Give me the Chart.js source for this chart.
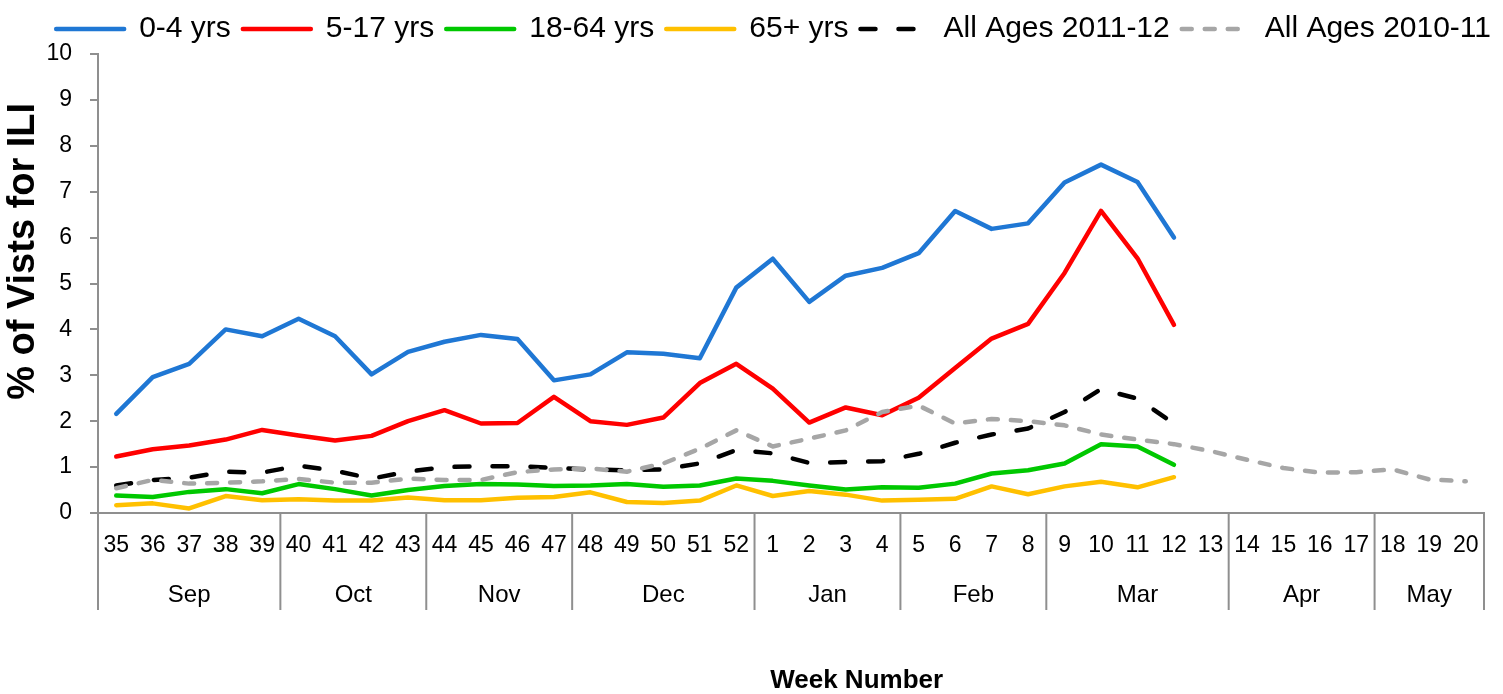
<!DOCTYPE html>
<html>
<head>
<meta charset="utf-8">
<script src="https://cdn.jsdelivr.net/npm/chart.js@4.4.1/dist/chart.umd.min.js"></script>
<style>
  html, body { margin: 0; padding: 0; background: #fff; }
  #wrap { width: 1503px; height: 694px; position: relative; }
</style>
</head>
<body>
<div id="wrap"><canvas id="iliChart"></canvas></div>
<script>
// week numbers on the x axis (Sep 2011 .. May 2012)
const weeks = ['35','36','37','38','39','40','41','42','43','44','45','46','47','48','49','50','51','52',
  '1','2','3','4','5','6','7','8','9','10','11','12','13','14','15','16','17','18','19','20'];

// month groups under the week labels
const months = ['Sep', 'Oct', 'Nov', 'Dec', 'Jan', 'Feb', 'Mar', 'Apr', 'May'];
const monthWeeks = [5, 4, 4, 5, 4, 4, 5, 4, 3];

const yTicks = [0, 1, 2, 3, 4, 5, 6, 7, 8, 9, 10];

// % of visits for ILI, season 2011-12 (data stops at week 12)
const age0to4 = [2.16, 2.96, 3.25, 4.0, 3.85, 4.23, 3.85, 3.02, 3.51, 3.73, 3.88, 3.79, 2.89, 3.02, 3.5, 3.47, 3.37, 4.91,
  5.54, 4.6, 5.17, 5.34, 5.66, 6.58, 6.19, 6.31, 7.2, 7.59, 7.21, 6.0];
const age5to17 = [1.23, 1.39, 1.47, 1.6, 1.81, 1.69, 1.58, 1.68, 2.0, 2.24, 1.95, 1.96, 2.53, 2.0, 1.92, 2.08, 2.83, 3.25,
  2.71, 1.97, 2.3, 2.13, 2.51, 3.16, 3.8, 4.12, 5.23, 6.58, 5.55, 4.1];
const age18to64 = [0.38, 0.35, 0.46, 0.52, 0.43, 0.63, 0.52, 0.38, 0.5, 0.59, 0.63, 0.62, 0.59, 0.6, 0.63, 0.57, 0.6, 0.75,
  0.7, 0.6, 0.51, 0.56, 0.55, 0.64, 0.86, 0.93, 1.08, 1.5, 1.45, 1.05];
const age65plus = [0.17, 0.21, 0.1, 0.37, 0.28, 0.3, 0.27, 0.27, 0.34, 0.28, 0.28, 0.33, 0.35, 0.45, 0.24, 0.22, 0.27, 0.6,
  0.37, 0.48, 0.4, 0.27, 0.29, 0.31, 0.58, 0.41, 0.58, 0.68, 0.56, 0.78];
const allAges1112 = [0.6, 0.72, 0.77, 0.9, 0.88, 1.03, 0.92, 0.75, 0.9, 1.0, 1.02, 1.02, 0.98, 0.95, 0.93, 0.95, 1.08, 1.37,
  1.3, 1.09, 1.11, 1.13, 1.29, 1.53, 1.71, 1.84, 2.2, 2.7, 2.49, 1.95];
// previous season, full range
const allAges1011 = [0.54, 0.72, 0.64, 0.66, 0.69, 0.74, 0.66, 0.66, 0.75, 0.72, 0.72, 0.89, 0.95, 0.97, 0.9, 1.08, 1.4, 1.8,
  1.45, 1.62, 1.8, 2.2, 2.34, 1.95, 2.05, 2.0, 1.91, 1.71, 1.6, 1.5, 1.35, 1.16, 0.98, 0.88, 0.89, 0.95, 0.73, 0.69];

const xTitle = 'Week Number';
const yTitle = '% of Vists for ILI';

const FONT = "'Liberation Sans', Arial, sans-serif";
const AXIS_GREY = '#8f8f8f';
const LINE_W = 4.5;

function line(label, data, color, dash, order) {
  return {
    label: label,
    data: data,
    borderColor: color,
    backgroundColor: color,
    borderWidth: LINE_W,
    borderDash: dash || [],
    borderCapStyle: 'round',
    borderJoinStyle: 'round',
    pointRadius: 0,
    pointHoverRadius: 0,
    tension: 0,
    fill: false,
    order: order
  };
}

// month row, separators and the two axis titles (Excel placed them off-centre)
const axisExtras = {
  id: 'axisExtras',
  afterDraw(chart) {
    const xs = chart.scales.x;
    const ctx = chart.ctx;
    const bottom = chart.chartArea.bottom;
    const half = (xs.getPixelForValue(1) - xs.getPixelForValue(0)) / 2;
    ctx.save();
    ctx.strokeStyle = AXIS_GREY;
    ctx.lineWidth = 2;
    ctx.fillStyle = '#000';
    ctx.font = '24px ' + FONT;
    ctx.textAlign = 'center';
    ctx.textBaseline = 'middle';
    let k = 0;
    months.forEach((m, i) => {
      const first = k;
      const last = k + monthWeeks[i] - 1;
      const left = xs.getPixelForValue(first) - half;
      ctx.beginPath();
      ctx.moveTo(left, bottom);
      ctx.lineTo(left, bottom + 97);
      ctx.stroke();
      const cx = (xs.getPixelForValue(first) + xs.getPixelForValue(last)) / 2;
      ctx.fillText(m, cx, bottom + 82);
      k = last + 1;
    });
    const right = xs.getPixelForValue(k - 1) + half;
    ctx.beginPath();
    ctx.moveTo(right, bottom);
    ctx.lineTo(right, bottom + 97);
    ctx.stroke();

    ctx.font = 'bold 26px ' + FONT;
    ctx.fillText(xTitle, xs.getPixelForValue(20) + 0.6 * half, chart.height - 13);

    const ys = chart.scales.y;
    ctx.font = 'bold 38px ' + FONT;
    ctx.translate(24, ys.getPixelForValue(5.7));
    ctx.rotate(-Math.PI / 2);
    ctx.fillText(yTitle, 0, 0);
    ctx.restore();
  }
};

function legendItems(chart) {
  const items = Chart.defaults.plugins.legend.labels.generateLabels(chart);
  items.forEach(it => {
    const ds = chart.data.datasets[it.datasetIndex];
    it.lineDash = ds.borderDash;
    it.lineCap = 'round';
    it.lineWidth = LINE_W;
    it.strokeStyle = ds.borderColor;
  });
  return items.sort((a, b) => a.datasetIndex - b.datasetIndex);
}

const ctx = document.getElementById('iliChart').getContext('2d');

new Chart(ctx, {
  type: 'line',
  data: {
    labels: weeks,
    datasets: [
      line('0-4 yrs', age0to4, '#1f77d4', null, 6),
      line('5-17 yrs', age5to17, '#ff0000', null, 5),
      line('18-64 yrs', age18to64, '#00c800', null, 4),
      line('65+ yrs', age65plus, '#ffc000', null, 3),
      line('All Ages 2011-12', allAges1112, '#000000', [15, 23], 2),
      line('All Ages 2010-11', allAges1011, '#a6a6a6', [10, 13], 1)
    ]
  },
  options: {
    responsive: true,
    maintainAspectRatio: false,
    animation: false,
    layout: { padding: { top: 2, left: 0, right: 0, bottom: 0 } },
    plugins: {
      legend: {
        position: 'top',
        align: 'end',
        labels: {
          usePointStyle: true,
          pointStyle: 'line',
          pointStyleWidth: 68,
          padding: 12,
          color: '#000',
          font: { family: FONT, size: 30 },
          generateLabels: legendItems
        }
      },
      tooltip: { enabled: false }
    },
    scales: {
      x: {
        type: 'category',
        offset: true,
        grid: { display: false, drawTicks: false },
        border: { display: true, color: AXIS_GREY, width: 2 },
        ticks: {
          color: '#000',
          font: { family: FONT, size: 23 },
          padding: 19,
          maxRotation: 0,
          autoSkip: false
        },
        afterFit: scale => { scale.height = 181; }
      },
      y: {
        min: 0,
        max: 10,
        afterBuildTicks: scale => { scale.ticks = yTicks.map(v => ({ value: v })); },
        grid: { drawOnChartArea: false, drawTicks: true, tickLength: 8, color: AXIS_GREY, lineWidth: 2 },
        border: { display: true, color: AXIS_GREY, width: 2 },
        ticks: {
          color: '#000',
          font: { family: FONT, size: 23 },
          padding: 18
        },
        afterFit: scale => { scale.width = 98; }
      },
      // keeps a strip free on the right, like the original plot area
      yRight: {
        position: 'right',
        display: true,
        grid: { display: false, drawTicks: false },
        border: { display: false },
        ticks: { display: false },
        afterFit: scale => { scale.width = 19; }
      }
    }
  },
  plugins: [axisExtras]
});
</script>
</body>
</html>
